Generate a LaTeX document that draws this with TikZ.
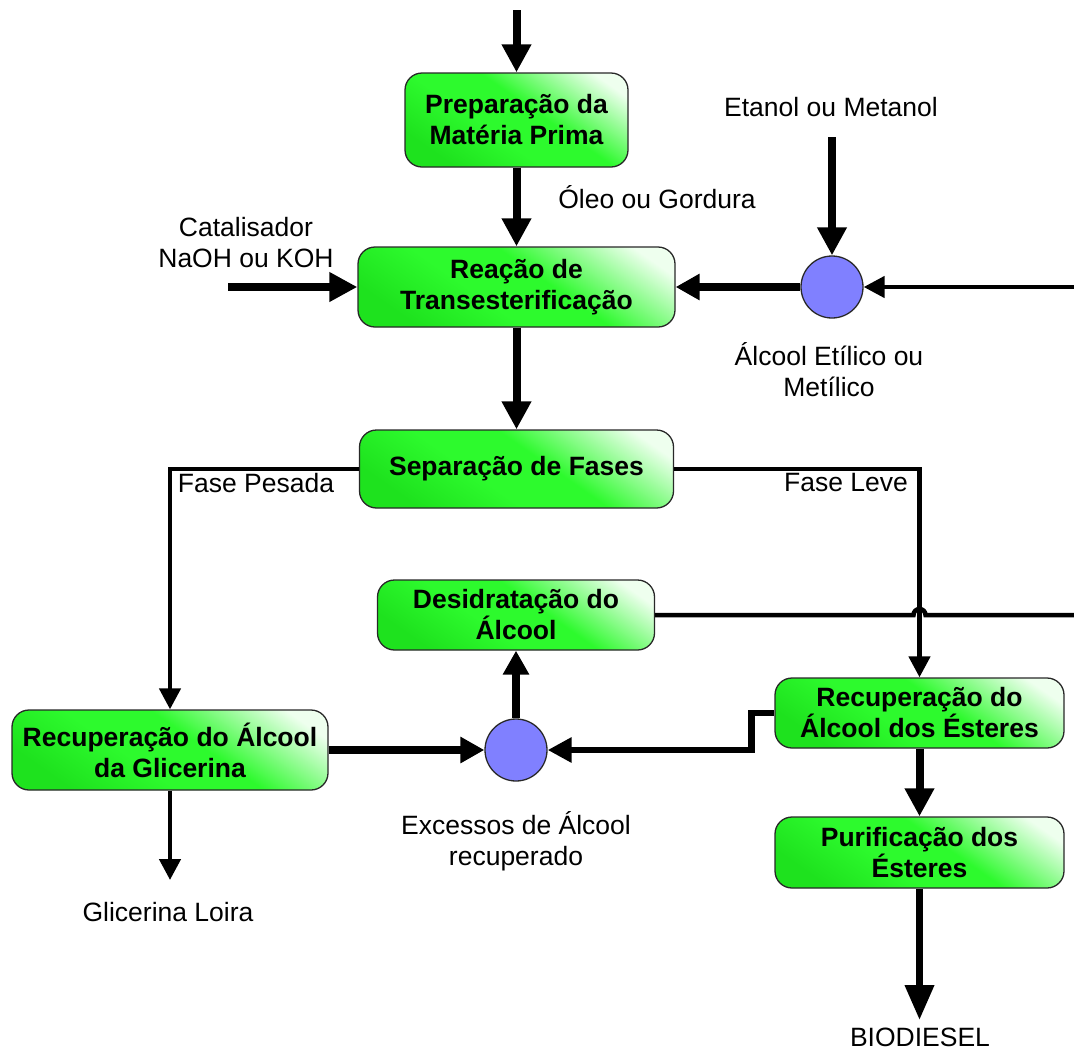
\documentclass[tikz,border=0pt]{standalone}
\usepackage{fontspec}
\setmainfont{Liberation Sans}
\usetikzlibrary{arrows.meta,calc}

\definecolor{bxd}{RGB}{30,226,30}
\definecolor{bxg}{RGB}{45,250,45}
\definecolor{bxm}{RGB}{150,252,150}
\definecolor{bxl}{RGB}{238,255,238}
\definecolor{mixer}{RGB}{128,128,255}
\definecolor{edge}{RGB}{40,40,40}
\pgfdeclarehorizontalshading{greenglow}{100bp}{color(0bp)=(bxd); color(25bp)=(bxd); color(42bp)=(bxg); color(56bp)=(bxg); color(68bp)=(bxm); color(78bp)=(bxl); color(100bp)=(bxl)}

\tikzset{
  stage/.style={draw=edge, line width=1.3pt, rounded corners=17pt, shade, shading=greenglow,
    shading angle=55, align=center, inner sep=0pt,
    font=\fontsize{26.5}{31}\selectfont\bfseries},
  mix/.style={circle, draw=edge, line width=1.3pt, fill=mixer, minimum size=62pt, inner sep=0pt},
  lbl/.style={align=center, inner sep=0pt, font=\fontsize{26.5}{31}\selectfont},
  bigflow/.style={line width=8pt, -{Triangle[length=28pt,width=28pt]}},
  midflow/.style={line width=8pt, -{Triangle[length=24pt,width=25pt]}},
  stepflow/.style={line width=6.5pt, -{Triangle[length=24pt,width=24pt]}},
  thinflow/.style={line width=4.5pt, -{Triangle[length=21pt,width=21pt]}},
  thinline/.style={line width=4.5pt},
  endflow/.style={line width=7pt, -{Triangle[length=35pt,width=28pt]}}
}

\begin{document}
\begin{tikzpicture}[x=1pt, y=-1pt]
\path[use as bounding box] (0,0) rectangle (1074,1050);

% process stages
\node[stage, minimum width=223pt, minimum height=94pt] (prep) at (516.5,120) {Preparação da\\Matéria Prima};
\node[stage, minimum width=317pt, minimum height=80pt] (reac) at (516.5,287) {Reação de\\Transesterificação};
\node[stage, minimum width=314pt, minimum height=78pt] (sep) at (516.5,469) {Separação de Fases};
\node[stage, minimum width=277pt, minimum height=70pt] (desid) at (516,615) {Desidratação do\\Álcool};
\node[stage, minimum width=316pt, minimum height=80pt] (recg) at (170,750) {Recuperação do Álcool\\da Glicerina};
\node[stage, minimum width=289pt, minimum height=70pt] (rece) at (919.5,713) {Recuperação do\\Álcool dos Ésteres};
\node[stage, minimum width=289pt, minimum height=71pt] (puri) at (919.5,852.5) {Purificação dos\\Ésteres};

% mixing points
\node[mix] (m1) at (832,287) {};
\node[mix] (m2) at (516,750) {};

% free ends of the streams
\coordinate (feed) at (516.5,10);
\coordinate (cat) at (228,287);
\coordinate (alc) at (832,137);
\coordinate (recin) at (1074,287);
\coordinate (recout) at (1074,615);
\coordinate (glic) at (170,880);
\coordinate (bio) at (919.5,1020);

% labels
\node[lbl] at (831,107) {Etanol ou Metanol};
\node[lbl] at (657,197) {Óleo ou Gordura};
\node[lbl] at (246,243) {Catalisador\\NaOH ou KOH};
\node[lbl] at (829,370) {Álcool Etílico ou\\Metílico};
\node[lbl] at (256,483) {Fase Pesada};
\node[lbl] at (846,483) {Fase Leve};
\node[lbl] at (516,841) {Excessos de Álcool\\recuperado};
\node[lbl] at (168,912) {Glicerina Loira};
\node[lbl] at (920,1037) {BIODIESEL};

% streams
\draw[bigflow] (feed) -- (prep.north);
\draw[bigflow] (prep.south) -- (reac.north);
\draw[bigflow] (cat) -- (reac.west);
\draw[bigflow] (alc) -- (m1.north);
\draw[midflow] (m1.west) -- (reac.east);
\draw[thinflow] (recin) -- (m1.east);
\draw[bigflow] (reac.south) -- (sep.north);
\draw[thinflow] (sep.west) -| (recg.north);
\draw[thinflow] (sep.east) -| (rece.north);
\draw[thinline] (desid.east) -- ($(desid.east -| rece.north)+(-6,0)$)
  arc[start angle=180, end angle=0, radius=6pt] -- (recout);
\draw[midflow] (recg.east) -- (m2.west);
\draw[midflow] (m2.north) -- (desid.south);
\draw[stepflow] (rece.west) -- ++(-23,0) |- (m2.east);
\draw[thinflow] (recg.south) -- (glic);
\draw[bigflow] (rece.south) -- (puri.north);
\draw[endflow] (puri.south) -- (bio);
\end{tikzpicture}
\end{document}
